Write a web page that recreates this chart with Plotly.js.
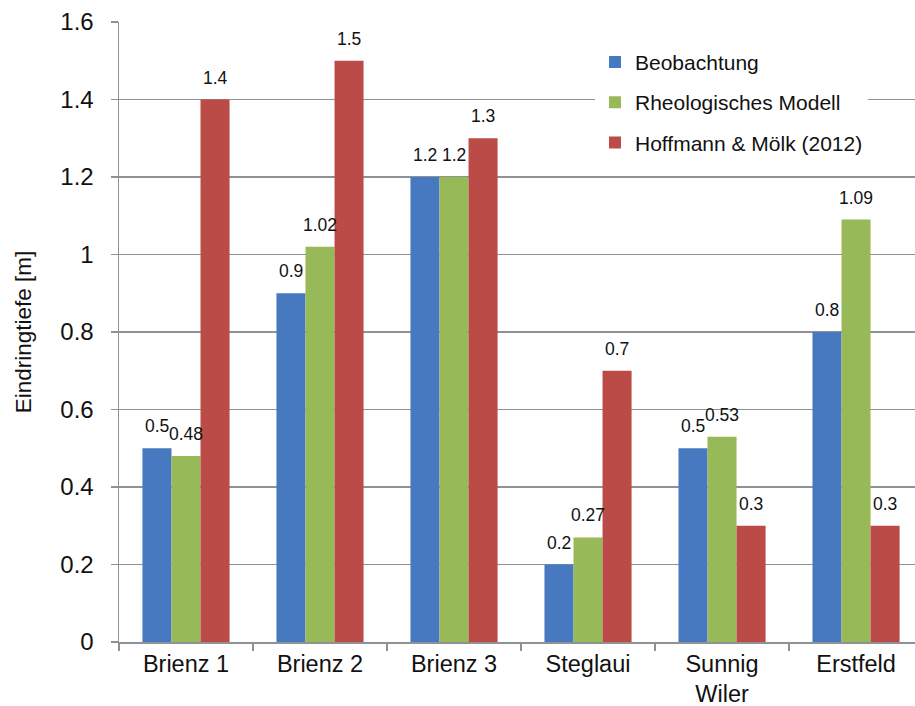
<!DOCTYPE html>
<html>
<head>
<meta charset="utf-8">
<script src="https://cdn.plot.ly/plotly-3.0.1.min.js"></script>
<style>
  html, body { margin: 0; padding: 0; background: #ffffff; }
  #chart { width: 915px; height: 706px; }
</style>
</head>
<body>
<div id="chart"></div>
<script>
// Sites along the x axis
const sites = ["Brienz 1", "Brienz 2", "Brienz 3", "Steglaui", "Sunnig<br>Wiler", "Erstfeld"];

// Penetration depth [m] per site
const beobachtung = [0.5, 0.9, 1.2, 0.2, 0.5, 0.8];
const rheoModell  = [0.48, 1.02, 1.2, 0.27, 0.53, 1.09];
const hoffmann    = [1.4, 1.5, 1.3, 0.7, 0.3, 0.3];

const seriesNames  = ["Beobachtung", "Rheologisches Modell", "Hoffmann & Mölk (2012)"];
const seriesValues = [beobachtung, rheoModell, hoffmann];
const seriesColors = ["#4679c0", "#98b957", "#bb4b47"];

const yTicks = [0, 0.2, 0.4, 0.6, 0.8, 1, 1.2, 1.4, 1.6];

const FONT = "'Liberation Sans', Arial, sans-serif";
const gridGrey = "#8e9294";
const barGap = 0.35;

const traces = seriesValues.map((vals, k) => ({
  type: "bar",
  name: seriesNames[k],
  x: sites,
  y: vals,
  marker: { color: seriesColors[k], line: { width: 0 } },
  legendgroup: "g" + k,
  hoverinfo: "x+y+name"
}));

// value labels above each bar, placed at each bar's centre within its group
const barWidth = (1 - barGap) / seriesValues.length;
const annotations = [];
seriesValues.forEach((vals, k) => {
  const offset = (k - (seriesValues.length - 1) / 2) * barWidth;
  vals.forEach((v, i) => {
    annotations.push({
      xref: "x", yref: "y",
      x: i + offset, y: v,
      text: String(v),
      showarrow: false,
      xanchor: "center", yanchor: "bottom",
      yshift: 10,
      font: { family: FONT, size: 17.5, color: "#111111" }
    });
  });
});

const layout = {
  width: 915,
  height: 706,
  margin: { l: 119, r: 0, t: 22, b: 64 },
  paper_bgcolor: "#ffffff",
  plot_bgcolor: "#ffffff",
  barmode: "group",
  bargap: barGap,
  bargroupgap: 0,
  font: { family: FONT, color: "#111111" },
  xaxis: {
    type: "category",
    range: [-0.5, 5.44],
    tickson: "boundaries",
    ticks: "outside",
    ticklen: 7,
    tickwidth: 1.5,
    tickcolor: gridGrey,
    ticklabelstandoff: 0,
    showline: true,
    linecolor: gridGrey,
    linewidth: 1.5,
    showgrid: false,
    tickfont: { family: FONT, size: 23.5, color: "#111111" },
    fixedrange: true
  },
  yaxis: {
    range: [0, 1.6],
    tickvals: yTicks,
    ticktext: yTicks.map(String),
    ticks: "outside",
    ticklen: 7,
    tickwidth: 1.5,
    tickcolor: gridGrey,
    ticklabelstandoff: 12,
    showline: true,
    linecolor: gridGrey,
    linewidth: 1.5,
    showgrid: true,
    gridcolor: gridGrey,
    gridwidth: 1.5,
    zeroline: false,
    tickfont: { family: FONT, size: 24, color: "#111111" },
    title: { text: "Eindringtiefe [m]", font: { family: FONT, size: 22.5, color: "#111111" }, standoff: 22 },
    automargin: false,
    fixedrange: true
  },
  legend: {
    x: 0.598, xanchor: "left",
    y: 0.968, yanchor: "top",
    bgcolor: "#ffffff",
    borderwidth: 0,
    traceorder: "grouped",
    tracegroupgap: 10,
    entrywidth: 262,
    font: { family: FONT, size: 21, color: "#111111" }
  },
  annotations: annotations,
  showlegend: true
};

Plotly.newPlot("chart", traces, layout, { displayModeBar: false, staticPlot: true });
</script>
</body>
</html>
